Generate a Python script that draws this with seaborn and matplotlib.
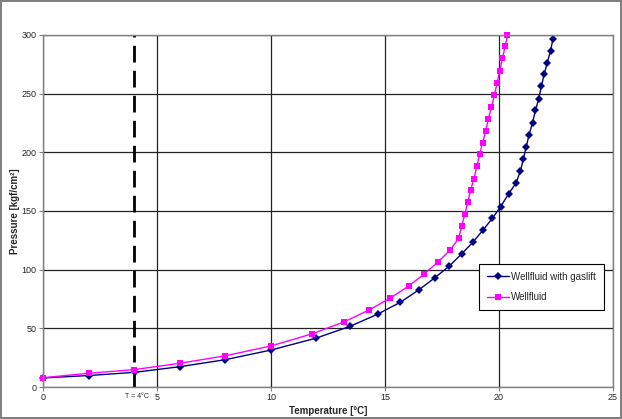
import numpy as np
import pandas as pd
import matplotlib
matplotlib.use("Agg")
import matplotlib.pyplot as plt
import matplotlib.transforms as mtransforms
import seaborn as sns

# Wellfluid with gaslift
gasliftTemp = [0, 2.02, 4.02, 6.0, 8.0, 10.0, 11.97, 13.48, 14.68, 15.67, 16.48,
               17.19, 17.82, 18.36, 18.85, 19.3, 19.71, 20.07, 20.42, 20.75, 20.94,
               21.07, 21.19, 21.32, 21.47, 21.6, 21.74, 21.86, 21.98, 22.12, 22.26, 22.37]
gasliftPres = [7.7, 9.8, 12.5, 17.3, 23.3, 31.5, 41.6, 51.8, 62.1, 72.2, 82.7,
               93.2, 103.1, 113.4, 123.3, 133.8, 143.8, 153.7, 164.5, 174.0, 184.2,
               194.4, 204.4, 215.0, 225.3, 235.7, 245.7, 256.3, 266.6, 276.5, 286.5, 297.0]

# Wellfluid
fluidTemp = [0, 2.0, 4.0, 6.0, 8.0, 10.0, 11.8, 13.19, 14.3, 15.24, 16.05,
             16.73, 17.32, 17.87, 18.23, 18.36, 18.5, 18.63, 18.75, 18.9, 19.03,
             19.15, 19.28, 19.42, 19.53, 19.67, 19.8, 19.92, 20.03, 20.15, 20.27, 20.37]
fluidPres = [7.9, 11.7, 14.8, 20.2, 26.6, 35.0, 45.3, 55.4, 65.6, 75.9, 86.2,
             96.5, 106.5, 117.0, 126.7, 137.0, 147.2, 157.5, 167.5, 177.6, 188.0,
             198.2, 208.3, 218.0, 228.6, 238.6, 248.9, 259.4, 269.4, 280.0, 290.2, 300.0]

hydrateTemp = 4
hydrateLabel = "T = 4°C"

xTicks = [0, 5, 10, 15, 20, 25]
yTicks = [0, 50, 100, 150, 200, 250, 300]

sns.set_style("white")
plt.rcParams['font.family'] = ['Liberation Sans', 'DejaVu Sans']

fig = plt.figure(figsize=(6.22, 4.19), dpi=100)
fig.patch.set_edgecolor('#808080')
fig.patch.set_linewidth(1.5)
ax = fig.add_axes([43/622, 1-387/419, 570/622, 352/419])

sns.lineplot(x=gasliftTemp, y=gasliftPres, ax=ax, sort=False, color='#000080',
             marker='D', markersize=4, markeredgewidth=0, linewidth=1,
             label='Wellfluid with gaslift', clip_on=False)
sns.lineplot(x=fluidTemp, y=fluidPres, ax=ax, sort=False, color='#FF00FF',
             marker='s', markersize=5, markeredgewidth=0, linewidth=1,
             label='Wellfluid', clip_on=False)

ax.axvline(hydrateTemp, color='black', linewidth=2, dashes=(6, 3), zorder=1)
trans = mtransforms.blended_transform_factory(ax.transData, ax.transAxes)
ax.text(hydrateTemp + 0.1, -0.028, hydrateLabel, transform=trans, fontsize=5,
        ha='center', va='center')

ax.set(xlim=(0, 25), ylim=(0, 300))
ax.set_xticks(xTicks)
ax.set_yticks(yTicks)
ax.grid(True, color='#222222', linewidth=0.9)
ax.set_axisbelow(True)
ax.tick_params(labelsize=6.5, length=3, width=0.8, color='#808080', pad=1.5,
               bottom=True, left=True)
for sp in ax.spines.values():
    sp.set_color('#808080')
    sp.set_linewidth(1)

ax.set_xlabel('Temperature [°C]', fontsize=7, fontweight='bold', labelpad=3)
ax.set_ylabel('Pressure [kgf/cm²]', fontsize=7, fontweight='bold', labelpad=1)

leg = ax.legend(loc='upper left', bbox_to_anchor=(0.757, 0.364), fontsize=7,
                frameon=True, fancybox=False, edgecolor='black', framealpha=1,
                borderpad=0.8, labelspacing=1.1, handlelength=2.2, handletextpad=0.3)
leg.get_frame().set_linewidth(0.8)

fig.savefig('out.png', dpi=100, edgecolor=fig.get_edgecolor())
